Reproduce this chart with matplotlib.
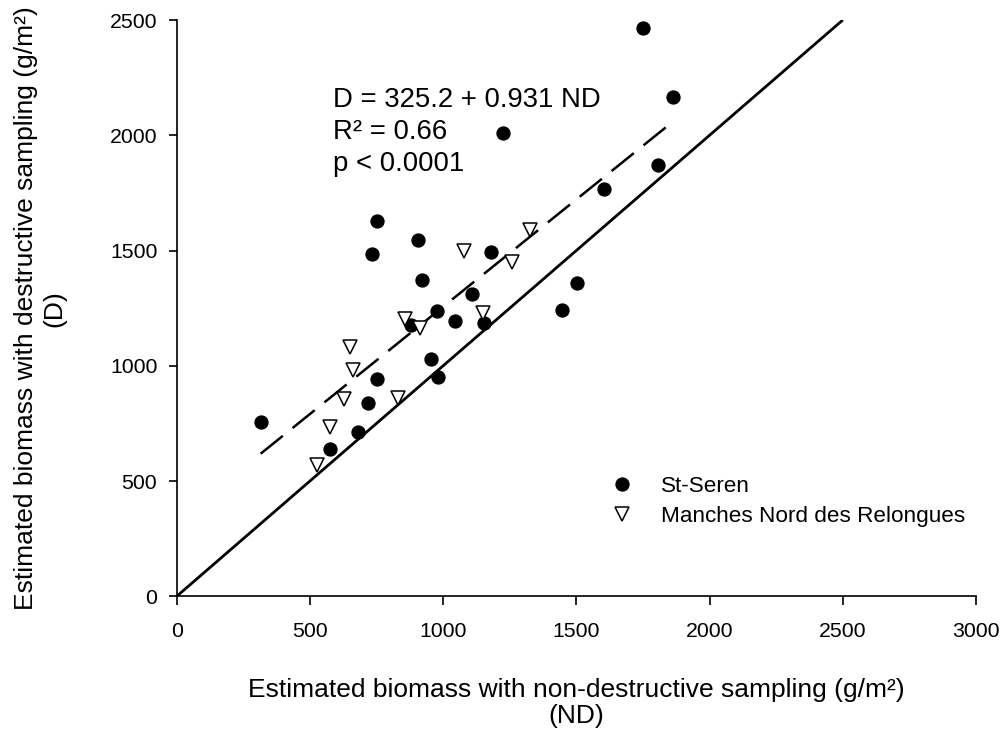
import matplotlib
matplotlib.use("Agg")
import matplotlib.pyplot as plt
import numpy as np

plt.rcParams['font.family'] = ['Liberation Sans', 'DejaVu Sans']
plt.rcParams['lines.scale_dashes'] = False

# St-Seren (filled circles)
st_seren_nd = [315, 575, 679, 719, 752, 954, 981, 977, 1044, 878, 1154, 1448,
               1110, 921, 734, 752, 906, 1179, 1223, 1752, 1861, 1806, 1602, 1504]
st_seren_d = [757, 637, 714, 839, 941, 1028, 952, 1237, 1193, 1176, 1186, 1244,
              1313, 1371, 1484, 1628, 1545, 1494, 2011, 2467, 2166, 1873, 1769, 1361]

# Manches Nord des Relongues (open triangles)
relongues_nd = [527, 575, 628, 660, 650, 831, 856, 912, 1150, 1080, 1259, 1325]
relongues_d = [569, 735, 858, 981, 1082, 862, 1201, 1165, 1230, 1498, 1451, 1588]

# regression D = 325.2 + 0.931 ND
intercept = 325.2
slope = 0.931

xticks = [0, 500, 1000, 1500, 2000, 2500, 3000]
yticks = [0, 500, 1000, 1500, 2000, 2500]

fig = plt.figure(figsize=(10.06, 7.38), dpi=100)
ax = fig.add_axes([176.7/1006, 1-596.3/738, (976-176.7)/1006, (596.3-20)/738])

# 1:1 line
ax.plot([0, 2500], [0, 2500], color='black', lw=2.0, solid_capstyle='butt', zorder=2)

# regression line over data range
all_x = np.array(st_seren_nd + relongues_nd)
xr = np.array([all_x.min(), all_x.max()])
ax.plot(xr, intercept + slope * xr, color='black', lw=1.8,
        dashes=(20.5, 9), zorder=2)

ax.plot(st_seren_nd, st_seren_d, 'o', color='black', markersize=9.3,
        linestyle='none', label='St-Seren', zorder=3)
ax.plot(relongues_nd, relongues_d, 'v', markerfacecolor='white',
        markeredgecolor='black', markeredgewidth=1.1, markersize=10,
        linestyle='none', label='Manches Nord des Relongues', zorder=3)

ax.set_xlim(0, 3000)
ax.set_ylim(0, 2500)
ax.set_xticks(xticks)
ax.set_yticks(yticks)
ax.spines['top'].set_visible(False)
ax.spines['right'].set_visible(False)
for s in ['left', 'bottom']:
    ax.spines[s].set_linewidth(1.2)
ax.tick_params(axis='x', direction='out', length=6.5, width=1.2, pad=12, labelsize=15.3)
ax.tick_params(axis='y', direction='out', length=6, width=1.2, pad=8, labelsize=15.3)

ax.set_xlabel('Estimated biomass with non-destructive sampling (g/m²)\n(ND)',
              fontsize=19, labelpad=26.5, linespacing=1.13)
ax.set_ylabel('Estimated biomass with destructive sampling (g/m²)\n(D)',
              fontsize=19, labelpad=31.5, linespacing=1.2)

tx = (333 - 176.7) / 799.3
for txt, yb in [('D = 325.2 + 0.931 ND', 107.3), ('R² = 0.66', 139.3), ('p < 0.0001', 170.7)]:
    ax.text(tx, (596.3 - yb) / 576.3, txt, transform=ax.transAxes,
            fontsize=19.8, va='baseline', ha='left')

ax.legend(loc='upper left', bbox_to_anchor=((605 - 176.7) / 799.3, (596.3 - 476) / 576.3),
          frameon=False, fontsize=16.2, handletextpad=1.0, labelspacing=0.4,
          borderaxespad=0, borderpad=0, handlelength=1.5)

fig.savefig('out.png', dpi=100)
